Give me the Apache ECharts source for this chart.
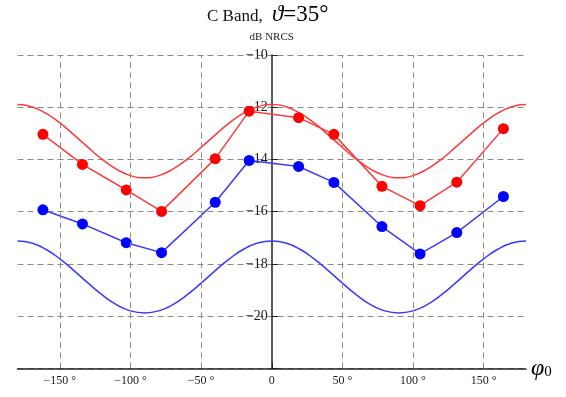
<!DOCTYPE html>
<html>
<head>
<meta charset="utf-8">
<script src="https://cdn.jsdelivr.net/npm/echarts@6/dist/echarts.min.js"></script>
<style>html,body{margin:0;padding:0;background:#fff;}#c{width:566px;height:397px;}</style>
</head>
<body>
<div id="c"></div>
<script>
// measured points
const phiPts = [-162, -134, -103, -78, -40, -16, 19, 44, 78, 105, 131, 164];
const redPts = [-13.04, -14.19, -15.17, -15.99, -13.97, -12.15, -12.40, -13.04, -15.03, -15.77, -14.87, -12.82];
const bluePts = [-15.93, -16.47, -17.19, -17.57, -15.64, -14.04, -14.27, -14.88, -16.57, -17.62, -16.80, -15.42];
// model curves every 10 degrees
const phiCurve = [-180,-170,-160,-150,-140,-130,-120,-110,-100,-90,-80,-70,-60,-50,-40,-30,-20,-10,0,10,20,30,40,50,60,70,80,90,100,110,120,130,140,150,160,170,180];
const redCurve = [-11.9,-11.98,-12.23,-12.6,-13.06,-13.54,-14.0,-14.37,-14.62,-14.7,-14.62,-14.37,-14.0,-13.54,-13.06,-12.6,-12.23,-11.98,-11.9,-11.98,-12.23,-12.6,-13.06,-13.54,-14.0,-14.37,-14.62,-14.7,-14.62,-14.37,-14.0,-13.54,-13.06,-12.6,-12.23,-11.98,-11.9];
const blueCurve = [-17.12,-17.2,-17.44,-17.81,-18.26,-18.74,-19.19,-19.56,-19.8,-19.88,-19.8,-19.56,-19.19,-18.74,-18.26,-17.81,-17.44,-17.2,-17.12,-17.2,-17.44,-17.81,-18.26,-18.74,-19.19,-19.56,-19.8,-19.88,-19.8,-19.56,-19.19,-18.74,-18.26,-17.81,-17.44,-17.2,-17.12];
const xTicks = [-150, -100, -50, 0, 50, 100, 150];
const yTicks = [-20, -18, -16, -14, -12, -10];

const zip = (a, b) => a.map((v, i) => [v, b[i]]);
const serif = '"Liberation Serif", "Times New Roman", serif';
const gridStyle = {color: '#8a8a8a', width: 1, type: [6, 4]};
const gridLeft = 17.5, gridRight = 40, W = 566;
const yAxisOffset = -((W - gridLeft - gridRight) / 2);

const chart = echarts.init(document.getElementById('c'), null, {renderer: 'canvas'});
chart.setOption({
  animation: false,
  title: {
    text: '{a|C Band, }{t|ϑ}{c|=35°}',
    left: 202, top: -2,
    textStyle: {
      fontWeight: 'normal',
      rich: {
        a: {fontFamily: serif, fontSize: 17, fontWeight: 'normal', color: '#111', padding: [4, 5, 0, 0]},
        t: {fontFamily: serif, fontSize: 23, fontStyle: 'italic', fontWeight: 'normal', color: '#000'},
        c: {fontFamily: serif, fontSize: 23, fontWeight: 'normal', color: '#000'}
      }
    }
  },
  grid: {left: gridLeft, right: gridRight, top: 55, bottom: 28.7, containLabel: false, outerBoundsMode: 'none'},
  xAxis: {
    type: 'value', min: -180, max: 180,
    axisLine: {onZero: false, lineStyle: {color: '#222', width: 1.5}},
    axisTick: {inside: true, length: 5, customValues: xTicks, lineStyle: {color: '#222'}},
    axisLabel: {
      customValues: xTicks, margin: 7,
      fontFamily: serif, fontSize: 12, color: '#1a1a1a',
      formatter: v => v === 0 ? '0' : (v < 0 ? '\u2212' + Math.abs(v) : v) + ' \u00b0'
    },
    splitLine: {show: false},
    name: '{p|φ}{s|0}', nameLocation: 'end', nameGap: 5,
    nameTextStyle: {
      rich: {
        p: {fontFamily: serif, fontSize: 24, fontStyle: 'italic', color: '#000'},
        s: {fontFamily: serif, fontSize: 15, color: '#000', padding: [8, 0, 0, 0]}
      }
    }
  },
  yAxis: {
    type: 'value', min: -22, max: -10, interval: 2,
    offset: yAxisOffset,
    axisLine: {onZero: false, lineStyle: {color: '#222', width: 1.5}},
    axisTick: {inside: true, length: 6, lineStyle: {color: '#222'}},
    axisLabel: {
      margin: 4, fontFamily: serif, fontSize: 14, color: '#1a1a1a',
      formatter: v => yTicks.indexOf(v) >= 0 ? '\u2212' + Math.abs(v) : ''
    },
    splitLine: {show: true, lineStyle: gridStyle},
    name: 'dB NRCS', nameLocation: 'end', nameGap: 12,
    nameTextStyle: {fontFamily: serif, fontSize: 11, color: '#222', align: 'center'}
  },
  series: [
    {
      type: 'line', data: [], silent: true,
      markLine: {
        silent: true, symbol: 'none', label: {show: false},
        lineStyle: gridStyle,
        data: xTicks.filter(v => v !== 0).map(v => ({xAxis: v}))
      }
    },
    {type: 'line', data: zip(phiCurve, redCurve), smooth: true, showSymbol: false,
     lineStyle: {color: '#ff3a3a', width: 1.5}},
    {type: 'line', data: zip(phiCurve, blueCurve), smooth: true, showSymbol: false,
     lineStyle: {color: '#3a3aff', width: 1.5}},
    {type: 'line', data: zip(phiPts, redPts), symbol: 'circle', symbolSize: 11,
     itemStyle: {color: '#ff0000'}, lineStyle: {color: '#ff3a3a', width: 1.5}},
    {type: 'line', data: zip(phiPts, bluePts), symbol: 'circle', symbolSize: 11,
     itemStyle: {color: '#0000ff'}, lineStyle: {color: '#3a3aff', width: 1.5}}
  ]
});
</script>
</body>
</html>
